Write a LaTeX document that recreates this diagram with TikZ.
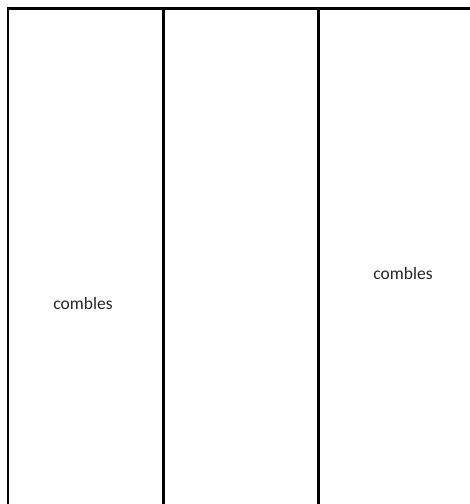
\documentclass[tikz,border=0pt]{standalone}
\usepackage{fontspec}
\setmainfont{Carlito}
\begin{document}
\begin{tikzpicture}[x=1pt,y=-1pt,
  wall/.style={line width=2.6pt,black},
  lbl/.style={font=\fontsize{17.5}{20}\selectfont,text=black!85,inner sep=0pt}]
\useasboundingbox (0,0) rectangle (470,504);
\coordinate (tl) at (8,8.5);
\coordinate (tr) at (471,8.5);
\coordinate (bl) at (8,505);
\coordinate (m1t) at (163.5,8.5);
\coordinate (m1b) at (163.5,505);
\coordinate (m2t) at (318.5,8.5);
\coordinate (m2b) at (318.5,505);
\draw[wall] (bl) -- (tl) -- (tr);
\draw[wall] (m1t) -- (m1b);
\draw[wall] (m2t) -- (m2b);
\node[lbl] (c1) at (83,303) {combles};
\node[lbl] (c2) at (403,273) {combles};
\end{tikzpicture}
\end{document}
